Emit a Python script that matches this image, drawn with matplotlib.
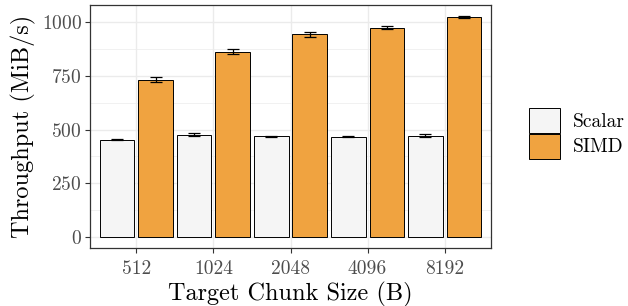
import matplotlib
matplotlib.use('Agg')
import matplotlib.pyplot as plt
from matplotlib.patches import Patch
import numpy as np

# data
chunk_sizes = ['512', '1024', '2048', '4096', '8192']
scalar_mean = [452, 476, 469, 466, 472]
scalar_err = [3, 6, 2, 2, 8]
simd_mean = [732, 862, 942, 973, 1024]
simd_err = [11, 13, 10, 7, 5]

scalar_col = '#F5F5F5'
simd_col = '#F0A340'

plt.rcParams['font.family'] = ['cmr10', 'DejaVu Serif']
plt.rcParams['axes.formatter.use_mathtext'] = True

fig = plt.figure(figsize=(6.28, 3.06), dpi=100)
ax = fig.add_axes([90/628, 58/306, 401/628, 243/306])

x = np.arange(1, len(chunk_sizes) + 1)
w = 0.45
ax.bar(x - 0.25, scalar_mean, w, color=scalar_col, edgecolor='black', linewidth=0.7, zorder=2)
ax.bar(x + 0.25, simd_mean, w, color=simd_col, edgecolor='black', linewidth=0.7, zorder=2)
ax.errorbar(x - 0.25, scalar_mean, yerr=scalar_err, fmt='none', ecolor='black',
            elinewidth=0.9, capsize=4, capthick=0.9, zorder=3)
ax.errorbar(x + 0.25, simd_mean, yerr=simd_err, fmt='none', ecolor='black',
            elinewidth=0.9, capsize=4, capthick=0.9, zorder=3)

ax.set_xlim(0.4, 5.6)
ax.set_ylim(-51, 1079)
ax.set_xticks(x)
ax.set_xticklabels(chunk_sizes)
ax.set_yticks([0, 250, 500, 750, 1000])
ax.set_yticks([125, 375, 625, 875], minor=True)
ax.set_xticks(x + 0.5, minor=True)
ax.grid(True, which='major', color='#EBEBEB', linewidth=1.0, zorder=0)
ax.grid(True, which='minor', axis='y', color='#EBEBEB', linewidth=0.5, zorder=0)
ax.set_axisbelow(True)
ax.tick_params(axis='x', which='minor', length=0)
ax.tick_params(axis='y', which='minor', length=0)
ax.tick_params(which='major', length=3.5, width=0.8, color='#333333',
               labelcolor='#4D4D4D', labelsize=14)
ax.tick_params(axis='x', pad=5)
ax.tick_params(axis='y', pad=2.5)
for s in ax.spines.values():
    s.set_color('#333333')
    s.set_linewidth(0.9)

ax.set_xlabel('Target Chunk Size (B)', fontsize=17.5, labelpad=3)
ax.set_ylabel('Throughput (MiB/s)', fontsize=17.5, labelpad=4)

handles = [Patch(facecolor=scalar_col, edgecolor='black', linewidth=0.7, label='Scalar'),
           Patch(facecolor=simd_col, edgecolor='black', linewidth=0.7, label='SIMD')]
fig.legend(handles=handles, loc='center left', bbox_to_anchor=(529/628, 0.564),
           frameon=False, fontsize=14, handlelength=1.6, handleheight=1.6,
           labelspacing=0.02, handletextpad=0.65, borderpad=0, borderaxespad=0)

fig.savefig('out.png', dpi=100)
